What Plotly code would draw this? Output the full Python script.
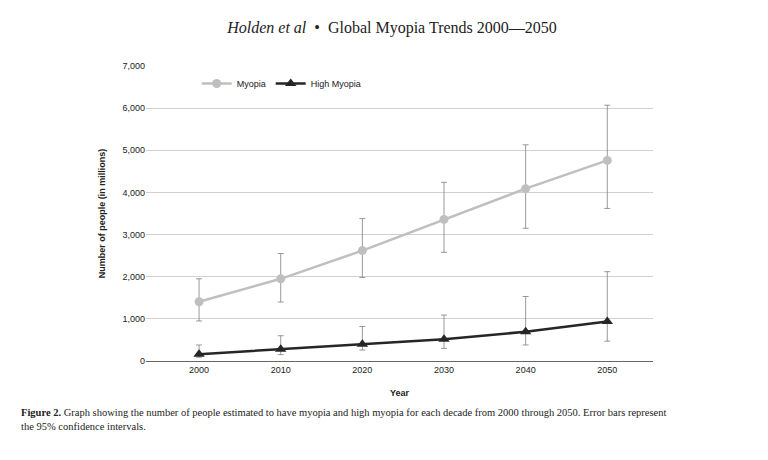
import plotly.graph_objects as go

years = [2000, 2010, 2020, 2030, 2040, 2050]
myopia = [1406, 1950, 2620, 3360, 4090, 4760]
myopia_hi = [1950, 2550, 3380, 4240, 5130, 6070]
myopia_lo = [950, 1400, 1980, 2580, 3150, 3620]
high = [163, 277, 399, 516, 694, 938]
high_hi = [380, 600, 820, 1090, 1530, 2120]
high_lo = [90, 150, 260, 300, 380, 470]

fig = go.Figure()
fig.add_trace(go.Scatter(
    x=years, y=myopia, name="Myopia", mode="lines+markers",
    line=dict(color="#bfbfbf", width=2.5),
    marker=dict(symbol="circle", size=9, color="#bfbfbf"),
    error_y=dict(type="data", symmetric=False,
                 array=[h - v for h, v in zip(myopia_hi, myopia)],
                 arrayminus=[v - l for v, l in zip(myopia, myopia_lo)],
                 color="#808080", thickness=0.8, width=3)))
fig.add_trace(go.Scatter(
    x=years, y=high, name="High Myopia", mode="lines+markers",
    line=dict(color="#262626", width=2.5),
    marker=dict(symbol="triangle-up", size=10, color="#262626"),
    error_y=dict(type="data", symmetric=False,
                 array=[h - v for h, v in zip(high_hi, high)],
                 arrayminus=[v - l for v, l in zip(high, high_lo)],
                 color="#808080", thickness=0.8, width=3)))

fig.update_layout(
    width=768, height=460, paper_bgcolor="white", plot_bgcolor="white",
    margin=dict(l=138, r=123, t=58, b=107),
    font=dict(family="Liberation Sans, Arial", size=9, color="#222"),
    title=dict(text="<i>Holden et al</i>  •  Global Myopia Trends 2000—2050",
               x=0.5, y=0.97, xanchor="center",
               font=dict(family="Liberation Serif, Times New Roman", size=16, color="#222")),
    legend=dict(orientation="h", x=0.1, y=0.99, bgcolor="rgba(0,0,0,0)",
                font=dict(size=9)),
    xaxis=dict(range=[1993.5, 2055.6], tickvals=years, showgrid=False,
               showline=True, linecolor="#666", ticks="", title=dict(text="<b>Year</b>", font=dict(size=9)),
               tickfont=dict(size=9)),
    yaxis=dict(range=[0, 7000], dtick=1000, tickformat=",", gridcolor="#d0d0d0",
               showline=False, zeroline=False,
               title=dict(text="<b>Number of people (in millions)</b>", font=dict(size=9))),
)
fig.add_annotation(
    text="<b>Figure 2.</b> Graph showing the number of people estimated to have myopia and high myopia for each decade from 2000 through 2050. Error bars represent<br>the 95% confidence intervals.",
    xref="paper", yref="paper", x=-0.25, y=-0.15, xanchor="left", yanchor="top",
    align="left", showarrow=False,
    font=dict(family="Liberation Serif, Times New Roman", size=10.5, color="#222"))
fig.write_html("out.html")
